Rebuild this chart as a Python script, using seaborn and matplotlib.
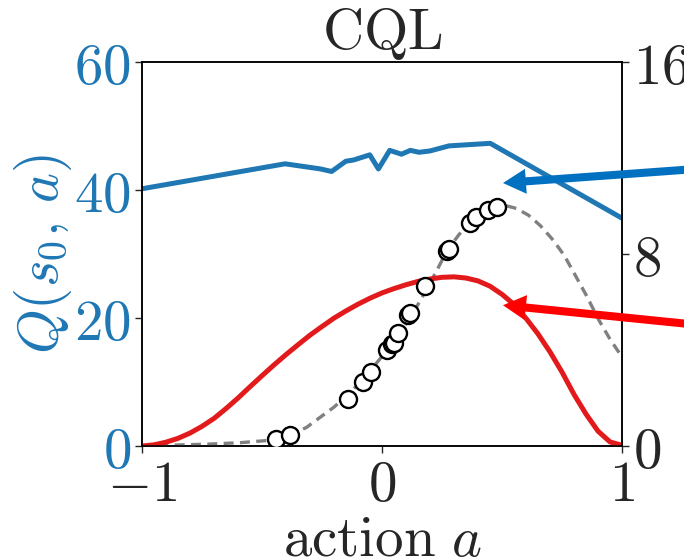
import numpy as np
import pandas as pd
import seaborn as sns
import matplotlib.pyplot as plt

sns.set_style('ticks')
plt.rcParams['mathtext.fontset'] = 'cm'
plt.rcParams['font.family'] = ['DejaVu Serif']

# Q(s0, a) learned by CQL (left axis)
q_action = [-1.0, -0.404, -0.257, -0.21, -0.151, -0.118, -0.051, -0.015, 0.032,
            0.081, 0.118, 0.154, 0.199, 0.279, 0.451, 1.0]
q_value = [40.2, 44.1, 43.3, 42.9, 44.5, 44.7, 45.5, 43.3, 46.2,
           45.6, 46.2, 45.9, 46.1, 46.9, 47.3, 35.6]

# policy density (right axis)
pi_action = [-1.0, -0.95, -0.9, -0.85, -0.8, -0.75, -0.7, -0.65, -0.6, -0.55,
             -0.5, -0.45, -0.4, -0.35, -0.3, -0.25, -0.2, -0.15, -0.1, -0.05,
             0.0, 0.05, 0.1, 0.15, 0.2, 0.25, 0.3, 0.35, 0.4, 0.45,
             0.5, 0.55, 0.6, 0.65, 0.7, 0.75, 0.8, 0.85, 0.9, 0.95, 1.0]
pi_value = [0.0, 0.05, 0.16, 0.32, 0.54, 0.82, 1.15, 1.56, 2.0, 2.47,
            2.93, 3.38, 3.81, 4.22, 4.62, 4.98, 5.33, 5.63, 5.91, 6.16,
            6.38, 6.56, 6.72, 6.86, 6.96, 7.03, 7.05, 7.0, 6.88, 6.66,
            6.32, 5.9, 5.32, 4.67, 3.92, 3.08, 2.15, 1.33, 0.62, 0.17, 0.03]

# true reward curve (right axis)
r_action = [-1.0, -0.86, -0.72, -0.59, -0.453, -0.38, -0.314, -0.26, -0.199,
            -0.15, -0.096, -0.04, 0.022, 0.066, 0.110, 0.15, 0.184, 0.23, 0.272,
            0.32, 0.360, 0.40, 0.449, 0.49, 0.522, 0.56, 0.610, 0.66, 0.713,
            0.76, 0.801, 0.85, 0.904, 0.95, 1.0]
r_value = [0.0, 0.04, 0.08, 0.14, 0.25, 0.45, 0.78, 1.18, 1.63,
           2.08, 2.6, 3.25, 4.0, 4.6, 5.24, 5.9, 6.5, 7.35, 8.16,
           8.8, 9.28, 9.62, 9.9, 10.0, 10.0, 9.9, 9.62, 9.18, 8.58,
           7.93, 7.19, 6.3, 5.24, 4.45, 3.71]

# dataset samples (right axis)
pt_action = [-0.441, -0.382, -0.143, -0.081, -0.044, 0.022, 0.040, 0.049, 0.066,
             0.110, 0.118, 0.181, 0.272, 0.279, 0.368, 0.390, 0.441, 0.478]
pt_value = [0.31, 0.45, 1.95, 2.67, 3.09, 3.99, 4.24, 4.30, 4.71,
            5.45, 5.55, 6.66, 8.14, 8.23, 9.30, 9.53, 9.83, 9.97]

x_ticks = [-1, 0, 1]
x_labels = [r'$-1$', r'$0$', r'$1$']
q_ticks = [0, 20, 40, 60]
q_labels = [r'$0$', r'$20$', r'$40$', r'$60$']
r_ticks = [0, 8, 16]
r_labels = [r'$0$', r'$8$', r'$16$']

blue = '#1f77b4'
fs = 41

fig = plt.figure(figsize=(6.84, 5.59), dpi=100)
ax = fig.add_axes([0.2076, 0.2021, 0.7018, 0.6869])
ax2 = ax.twinx()

q_df = pd.DataFrame({'a': q_action, 'q': q_value})
sns.lineplot(data=q_df, x='a', y='q', ax=ax, color=blue, lw=3.6, sort=False)

pi_df = pd.DataFrame({'a': pi_action, 'v': pi_value})
r_df = pd.DataFrame({'a': r_action, 'v': r_value})
pt_df = pd.DataFrame({'a': pt_action, 'v': pt_value})
sns.lineplot(data=r_df, x='a', y='v', ax=ax2, color='gray', lw=2.4,
             linestyle=(0, (3, 1.9)), sort=False)
sns.lineplot(data=pi_df, x='a', y='v', ax=ax2, color='#e31a1c', lw=3.6, sort=False)
sns.scatterplot(data=pt_df, x='a', y='v', ax=ax2, s=150, facecolor='white',
                edgecolor='black', linewidth=1.7, zorder=5)

ax.set_xlim(-1, 1)
ax.set_ylim(0, 60)
ax2.set_ylim(0, 16)
ax.set_xticks(x_ticks, labels=x_labels)
ax.set_yticks(q_ticks, labels=q_labels)
ax2.set_yticks(r_ticks, labels=r_labels)
for a in (ax, ax2):
    a.tick_params(labelsize=fs, length=5, width=1, pad=3)
    for s in a.spines.values():
        s.set_linewidth(1.1)
        s.set_color('black')
ax.tick_params(axis='y', labelcolor=blue)
ax.set_xlabel(r'$\mathrm{action}\ a$', fontsize=fs, labelpad=-1)
ax.set_ylabel(r'$Q(s_0,\, a)$', fontsize=fs, color=blue, labelpad=0)
ax2.set_ylabel('')
ax.set_title(r'$\mathrm{CQL}$', fontsize=fs, pad=3)

arrow_kw = dict(width=5.8, headwidth=18, headlength=16.5, shrink=0, edgecolor='none')
ax2.annotate('', xy=(0.504, 41.1), xycoords=ax.transData,
             xytext=(1.35, 43.4), textcoords=ax.transData,
             arrowprops=dict(facecolor='#0070c0', **arrow_kw), annotation_clip=False)
ax2.annotate('', xy=(0.504, 22.0), xycoords=ax.transData,
             xytext=(1.35, 18.8), textcoords=ax.transData,
             arrowprops=dict(facecolor='#ff0000', **arrow_kw), annotation_clip=False)

fig.savefig('out.png', dpi=100)
